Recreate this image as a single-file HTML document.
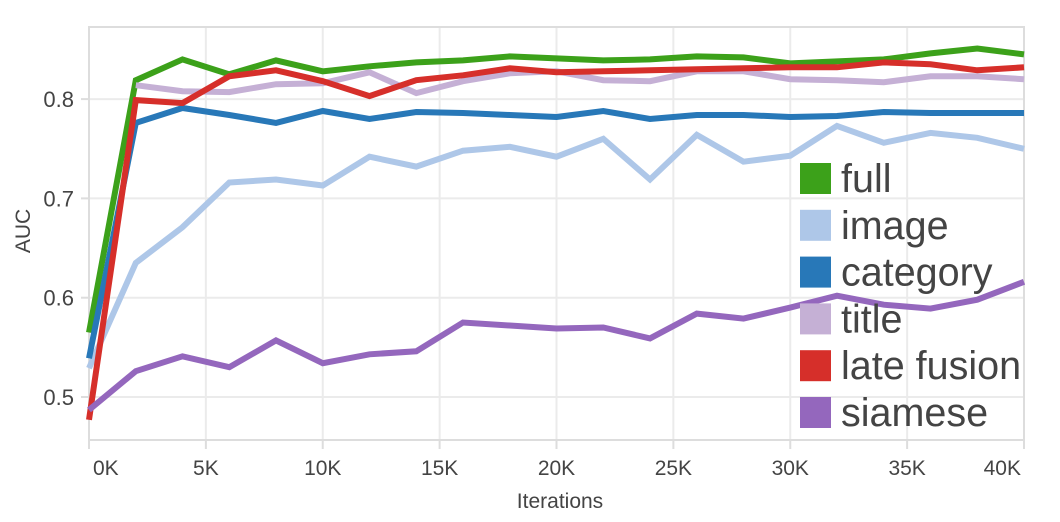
<!DOCTYPE html>
<html><head><meta charset="utf-8"><style>
body{margin:0;background:#fff;}
svg{display:block;font-family:"Liberation Sans",sans-serif;}
</style></head><body>
<svg id="chart" width="1060" height="522" viewBox="0 0 1060 522" xmlns="http://www.w3.org/2000/svg">
<g id="grid"></g>
<g id="series"></g>
<g id="axes"></g>
<g id="legend"></g>
<text x="0" y="0" transform="translate(30,231) rotate(-90)" text-anchor="middle" font-size="21" fill="#444">AUC</text>
<text x="560" y="508" text-anchor="middle" font-size="21" fill="#444">Iterations</text>
</svg>
<script>
const iterations = [0,2,4,6,8,10,12,14,16,18,20,22,24,26,28,30,32,34,36,38,40];
const seriesNames = ["full","image","category","title","late fusion","siamese"];
const seriesColors = ["#3ca11a","#aec7e8","#2878b8","#c5b0d5","#d62f2a","#9467bd"];
const fullValues = [0.565,0.819,0.840,0.825,0.839,0.828,0.833,0.837,0.839,0.843,0.841,0.839,0.840,0.843,0.842,0.836,0.838,0.840,0.846,0.851,0.845];
const imageValues = [0.529,0.635,0.671,0.716,0.719,0.713,0.742,0.732,0.748,0.752,0.742,0.760,0.719,0.764,0.737,0.743,0.773,0.756,0.766,0.761,0.750];
const categoryValues = [0.539,0.776,0.791,0.784,0.776,0.788,0.780,0.787,0.786,0.784,0.782,0.788,0.780,0.784,0.784,0.782,0.783,0.787,0.786,0.786,0.786];
const titleValues = [null,0.814,0.808,0.807,0.815,0.816,0.827,0.806,0.818,0.826,0.828,0.819,0.818,0.828,0.828,0.820,0.819,0.817,0.823,0.823,0.820];
const lateFusionValues = [0.477,0.799,0.796,0.823,0.829,0.818,0.803,0.819,0.824,0.831,0.827,0.828,0.829,0.830,0.831,0.832,0.832,0.837,0.835,0.829,0.832];
const siameseValues = [0.487,0.526,0.541,0.530,0.557,0.534,0.543,0.546,0.575,0.572,0.569,0.570,0.559,0.584,0.579,0.590,0.602,0.593,0.589,0.598,0.616];
const yTicks = [0.5,0.6,0.7,0.8];
const xTicks = [0,5,10,15,20,25,30,35,40];
const xTickLabels = ["0K","5K","10K","15K","20K","25K","30K","35K","40K"];

const allSeries = [fullValues,imageValues,categoryValues,titleValues,lateFusionValues,siameseValues];
const NS="http://www.w3.org/2000/svg";
const L=89,R=1024,T=27,B=440;
const xs=k=>L+(k/40)*(R-L);
const ys=v=>397-(v-0.5)*993;
function mk(tag,parent,attrs){const e=document.createElementNS(NS,tag);for(const k in attrs)e.setAttribute(k,attrs[k]);parent.appendChild(e);return e;}
const grid=document.getElementById('grid'),axes=document.getElementById('axes'),ser=document.getElementById('series'),leg=document.getElementById('legend');
xTicks.forEach((t,i)=>{
  const g=mk('line',grid,{x1:xs(t),x2:xs(t),y1:T,y2:B,stroke:'#ebebeb','stroke-width':2});
  
  
  const tk=mk('line',axes,{x1:xs(t),x2:xs(t),y1:B,y2:B+9,stroke:'#ddd','stroke-width':2});
  
  
  const anchor=i===0?'start':(i===xTicks.length-1?'end':'middle');
  const dx=i===0?4:(i===xTicks.length-1?-3:0);
  const tx=mk('text',axes,{x:xs(t)+dx,y:475,'text-anchor':anchor,'font-size':21,fill:'#444'});
  tx.textContent=xTickLabels[i];
  
  
});
yTicks.forEach(t=>{
  const g=mk('line',grid,{x1:L,x2:R,y1:ys(t),y2:ys(t),stroke:'#ebebeb','stroke-width':2});
  
  
  const tk=mk('line',axes,{x1:L-8,x2:L,y1:ys(t),y2:ys(t),stroke:'#ddd','stroke-width':2});
  
  
  const tx=mk('text',axes,{x:74,y:ys(t)+8,'text-anchor':'end','font-size':22,fill:'#444'});
  tx.textContent=t.toFixed(1);
  
  
});
const frame=mk('rect',grid,{x:L,y:T,width:R-L,height:B-T,fill:'none',stroke:'#ddd','stroke-width':2});


allSeries.forEach((vals,si)=>{
  let d='',first=true;
  vals.forEach((v,i)=>{ if(v===null) return; d+=(first?'M':'L')+xs(iterations[i]).toFixed(1)+','+ys(v).toFixed(1)+' '; first=false; });
  const p=mk('path',ser,{d:d,fill:'none',stroke:seriesColors[si],'stroke-width':6,'stroke-linejoin':'miter'});
  
  
});
seriesNames.forEach((n,i)=>{
  const y=163+i*46.8;
  const r=mk('rect',leg,{x:800,y:y,width:31,height:31,fill:seriesColors[i]});
  
  
  const t=mk('text',leg,{x:841,y:y+29,'font-size':39.5,fill:'#444'});
  t.textContent=n;
  
  
});
</script>
</body></html>
